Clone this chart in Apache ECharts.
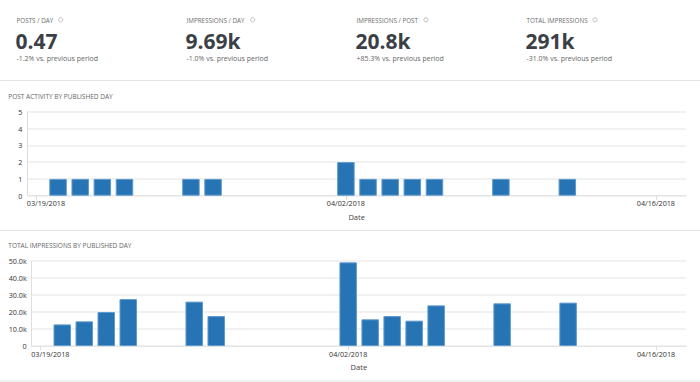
<!DOCTYPE html>
<html>
<head>
<meta charset="utf-8">
<script src="https://cdn.jsdelivr.net/npm/echarts@6/dist/echarts.min.js"></script>
<style>
html,body{margin:0;padding:0;background:#fff;}
#c{width:700px;height:382px;}
</style>
</head>
<body>
<div id="c"></div>
<script>
// ---- data ----
const kpiTitles = ['POSTS / DAY', 'IMPRESSIONS / DAY', 'IMPRESSIONS / POST', 'TOTAL IMPRESSIONS'];
const kpiValues = ['0.47', '9.69k', '20.8k', '291k'];
const kpiChanges = ['-1.2% vs. previous period', '-1.0% vs. previous period', '+85.3% vs. previous period', '-31.0% vs. previous period'];

const postDates = ['2018-03-20','2018-03-21','2018-03-22','2018-03-23','2018-03-26','2018-03-27','2018-04-02','2018-04-03','2018-04-04','2018-04-05','2018-04-06','2018-04-09','2018-04-12'];
const postCounts = [1,1,1,1,1,1,2,1,1,1,1,1,1];
const impressions = [12700,14500,20000,27600,26100,17600,49200,15700,17600,14900,23900,25100,25500];
const tickDates = ['2018-03-19','2018-04-02','2018-04-16'];
const chartTitles = ['POST ACTIVITY BY PUBLISHED DAY', 'TOTAL IMPRESSIONS BY PUBLISHED DAY'];
const axisName = 'Date';

// ---- helpers ----
const DAY = 86400000;
function ts(s){ const p = s.split('-').map(Number); return new Date(p[0], p[1]-1, p[2]).getTime(); }
function pad(n){ return (n<10?'0':'')+n; }
function fmtDate(v){ const d = new Date(v); return pad(d.getMonth()+1)+'/'+pad(d.getDate())+'/'+d.getFullYear(); }
const tickTs = tickDates.map(ts);
const xMin = tickTs[0] - 0.39*DAY;
const xMax = tickTs[2] + 1.36*DAY;

const FONT = '"Open Sans", sans-serif';
const BAR = '#2774b4';

function xAxis(gridIndex){
  return {
    type: 'value', gridIndex: gridIndex, min: xMin, max: xMax,
    name: axisName, nameLocation: 'middle', nameGap: 17,
    nameTextStyle: {fontFamily: FONT, fontSize: 7.5, color: '#444'},
    axisLine: {show: true, lineStyle: {color: '#e4e4e4', width: 1}},
    axisTick: {show: true, customValues: tickTs, length: 4, lineStyle: {color: '#dcdcdc'}},
    axisLabel: {
      customValues: tickTs, margin: 4, fontFamily: FONT, fontSize: 7.2, color: '#333',
      formatter: function(v){ const s = fmtDate(v); return v === tickTs[0] ? '{f|'+s+'}' : s; },
      rich: {f: {padding: [0,0,0,20], fontFamily: FONT, fontSize: 7.2, color: '#333'}}
    },
    splitLine: {show: false}
  };
}
function yAxis(gridIndex, max, interval, fmt){
  return {
    type: 'value', gridIndex: gridIndex, min: 0, max: max, interval: interval,
    axisLine: {show: true, lineStyle: {color: '#dedede', width: 1}},
    axisTick: {show: false},
    axisLabel: {margin: 5, fontFamily: FONT, fontSize: 7.2, color: '#333', formatter: fmt},
    splitLine: {show: true, lineStyle: {color: '#ececec', width: 1.5}}
  };
}

const graphics = [];
// separators
[80.5, 230.5, 381].forEach(function(y){
  graphics.push({type:'line', shape:{x1:0,y1:y,x2:700,y2:y}, style:{stroke:'#e3e3e3', lineWidth:1}, silent:true});
});
// KPI blocks
const kpiX = [16, 186, 356, 526];
const iconX = [60.7, 252.7, 426, 595];
kpiTitles.forEach(function(t, i){
  graphics.push({type:'text', x:kpiX[i]+0.5, y:20, style:{text:t, font:'6.3px '+FONT, fill:'#6b6b6b', verticalAlign:'middle'}});
  graphics.push({type:'circle', shape:{cx:iconX[i], cy:19.8, r:2.1}, style:{fill:'#fff', stroke:'#b5b5b5', lineWidth:0.9}});
  graphics.push({type:'text', x:kpiX[i]-0.5, y:40.5, style:{text:kpiValues[i], font:'bold 21px '+FONT, fill:'#3b4047', verticalAlign:'middle'}});
  graphics.push({type:'text', x:kpiX[i]+0.5, y:58, style:{text:kpiChanges[i], font:'7px '+FONT, fill:'#666', verticalAlign:'middle'}});
});
// chart titles
graphics.push({type:'text', x:8.3, y:96, style:{text:chartTitles[0], font:'6.5px '+FONT, fill:'#666', verticalAlign:'middle'}});
graphics.push({type:'text', x:8.3, y:245, style:{text:chartTitles[1], font:'6.5px '+FONT, fill:'#666', verticalAlign:'middle'}});

const chart = echarts.init(document.getElementById('c'), null, {renderer:'svg'});
chart.setOption({
  animation: false,
  backgroundColor: '#fff',
  graphic: graphics,
  grid: [
    {left: 27.3, right: 14, top: 111.7, height: 84},
    {left: 31.7, right: 14, top: 261, height: 85}
  ],
  xAxis: [xAxis(0), xAxis(1)],
  yAxis: [
    yAxis(0, 5, 1, function(v){ return String(v); }),
    yAxis(1, 50000, 10000, function(v){ return v === 0 ? '0' : (v/1000).toFixed(1)+'k'; })
  ],
  series: [
    {type:'bar', xAxisIndex:0, yAxisIndex:0, barWidth:17.5,
     data: postDates.map(function(d,i){ return [ts(d), postCounts[i]]; }),
     itemStyle:{color:BAR, borderColor:'#5e9acd', borderWidth:1}},
    {type:'bar', xAxisIndex:1, yAxisIndex:1, barWidth:17.5,
     data: postDates.map(function(d,i){ return [ts(d), impressions[i]]; }),
     itemStyle:{color:BAR, borderColor:'#5e9acd', borderWidth:1}}
  ]
});
</script>
</body>
</html>
